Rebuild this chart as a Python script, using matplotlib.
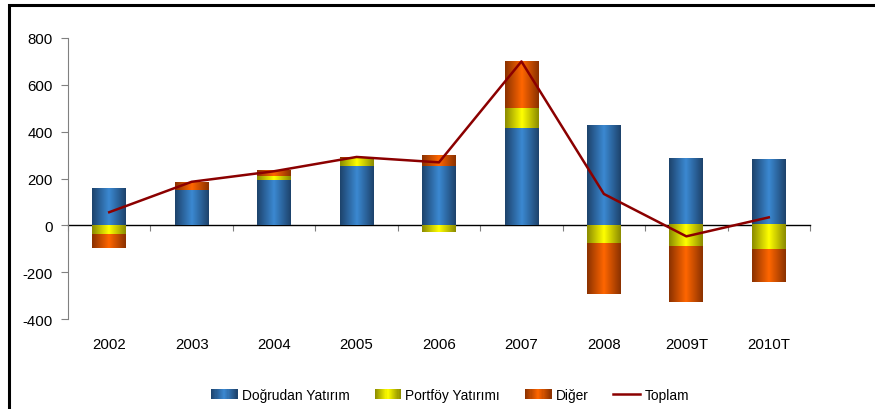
import numpy as np
import matplotlib
matplotlib.use("Agg")
import matplotlib.pyplot as plt
from matplotlib.colors import LinearSegmentedColormap
from matplotlib.patches import Rectangle
from matplotlib.lines import Line2D
from matplotlib.legend_handler import HandlerBase

plt.rcParams["font.family"] = ["Liberation Sans", "DejaVu Sans"]
plt.rcParams["axes.unicode_minus"] = False

yillar = ["2002", "2003", "2004", "2005", "2006", "2007", "2008", "2009T", "2010T"]
dogrudan = [154, 151, 192, 252, 255, 414, 427, 286, 278]
portfoy = [-38, 0, 17, 37, -29, 89, -81, -94, -107]
diger = [-59, 33, 22, 3, 44, 199, -214, -235, -137]
toplam = [56, 186, 231, 292, 269, 700, 134, -47, 34]

# gradyan renkleri (kenar, orta)
renkler = {
    "Doğrudan Yatırım": ("#1d426b", "#3b89d2"),
    "Portföy Yatırımı": ("#8a8a00", "#ffff00"),
    "Diğer": ("#8a3100", "#ff6600"),
}


def gradyan_cmap(koyu, acik):
    return LinearSegmentedColormap.from_list("g", [koyu, acik, koyu])


class GradyanHandler(HandlerBase):
    def __init__(self, koyu, acik):
        super().__init__()
        self.cmap = gradyan_cmap(koyu, acik)

    def create_artists(self, legend, orig_handle, xdescent, ydescent,
                       width, height, fontsize, trans):
        n = 24
        parcalar = []
        for i in range(n):
            r = Rectangle((-xdescent + width * i / n, -ydescent), width / n + 0.3, height,
                          facecolor=self.cmap((i + 0.5) / n), edgecolor="none",
                          transform=trans)
            parcalar.append(r)
        return parcalar


fig = plt.figure(figsize=(8.75, 4.1), dpi=100)
ax = fig.add_axes([68 / 875, 1 - 320 / 410, (810 - 68) / 875, (320 - 39) / 410])

x = np.arange(len(yillar))
genislik = 0.41
grad = np.linspace(0, 1, 256).reshape(1, -1)

pos = np.zeros(len(yillar))
neg = np.zeros(len(yillar))
for seri, (koyu, acik) in zip([dogrudan, portfoy, diger], renkler.values()):
    cmap = gradyan_cmap(koyu, acik)
    for i, v in enumerate(seri):
        if v == 0:
            continue
        if v > 0:
            alt, ust = pos[i], pos[i] + v
            pos[i] = ust
        else:
            alt, ust = neg[i] + v, neg[i]
            neg[i] = alt
        ax.imshow(grad, cmap=cmap, aspect="auto", interpolation="bilinear",
                  extent=(x[i] - genislik / 2, x[i] + genislik / 2, alt, ust), zorder=2)

ax.plot(x, toplam, color="#8b0000", linewidth=1.8, zorder=4)

ax.set_xlim(-0.5, len(yillar) - 0.5)
ax.set_ylim(-400, 800)
ax.set_yticks(range(-400, 801, 200))
ax.tick_params(axis="y", colors="#808080", length=5, labelcolor="black", labelsize=10.8, pad=6)
ax.spines["left"].set_color("#808080")
for s in ["top", "right", "bottom"]:
    ax.spines[s].set_visible(False)

ax.set_xticks(x, yillar)
ax.tick_params(axis="x", length=0, pad=13, labelsize=10.8)

# sifir cizgisi ve kategori sinir isaretleri
sec = ax.secondary_xaxis(400 / 1200)
sec.set_xticks(np.arange(-0.5, len(yillar), 1.0))
sec.tick_params(axis="x", direction="out", length=4, color="#808080", labelbottom=False, labeltop=False)
sec.spines["bottom"].set_color("black")
sec.spines["bottom"].set_linewidth(1.0)

tutamaclar = [Rectangle((0, 0), 1, 1) for _ in renkler] + [Line2D([], [], color="#8b0000", lw=1.8)]
isimler = list(renkler.keys()) + ["Toplam"]
handler_map = {h: GradyanHandler(*c) for h, c in zip(tutamaclar[:3], renkler.values())}
fig.legend(tutamaclar, isimler, handler_map=handler_map, loc="center",
           bbox_to_anchor=(450 / 875, 1 - 396 / 410), ncol=4, frameon=False,
           fontsize=9.9, handlelength=1.9, handleheight=0.75, columnspacing=1.8,
           handletextpad=0.35)

# cerceve
fig.patches.append(Rectangle((9 / 875, -0.05), 1.0, 1 - 6 / 410 + 0.05, transform=fig.transFigure,
                             fill=False, edgecolor="black", linewidth=2.2, clip_on=False))

fig.savefig("out.png", dpi=100)
